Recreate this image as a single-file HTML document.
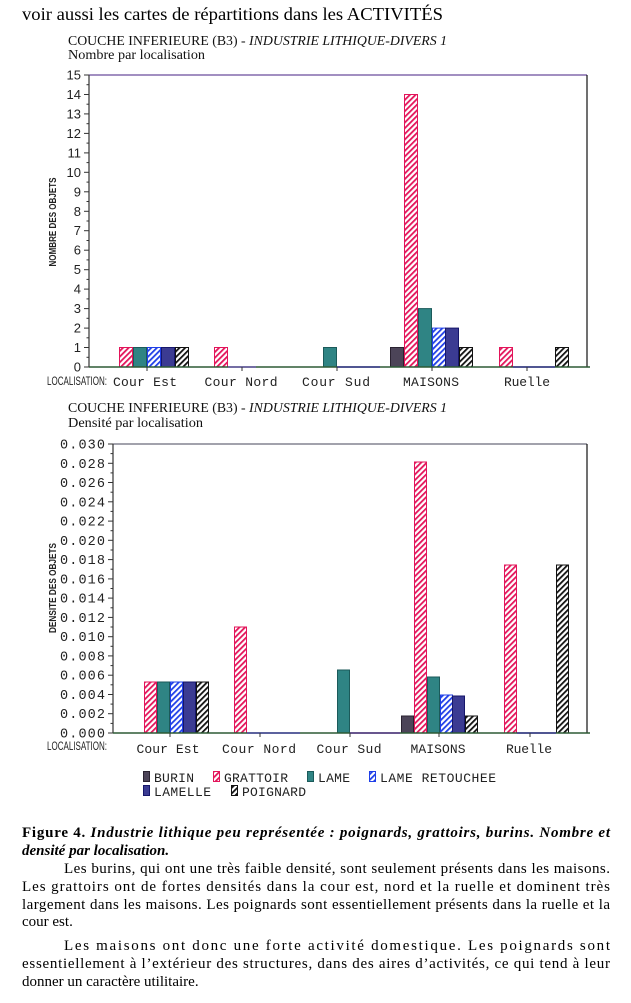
<!DOCTYPE html>
<html><head><meta charset="utf-8"><style>
html,body{margin:0;padding:0;background:#fff;}
svg{display:block;}
</style></head><body>
<svg width="631" height="1003" viewBox="0 0 631 1003" xmlns="http://www.w3.org/2000/svg">
<defs>
<pattern id="hr" patternUnits="userSpaceOnUse" width="4" height="4" patternTransform="rotate(45)"><rect width="4" height="4" fill="#fff"/><rect width="1.8" height="4" fill="#e3145a"/></pattern>
<pattern id="hb" patternUnits="userSpaceOnUse" width="4" height="4" patternTransform="rotate(45)"><rect width="4" height="4" fill="#fff"/><rect width="1.8" height="4" fill="#1f3fe8"/></pattern>
<pattern id="hk" patternUnits="userSpaceOnUse" width="4" height="4" patternTransform="rotate(45)"><rect width="4" height="4" fill="#fff"/><rect width="1.8" height="4" fill="#111"/></pattern>
</defs>
<rect width="631" height="1003" fill="#fff"/>

<!-- Header -->
<text x="22" y="20" font-family="Liberation Serif, serif" font-size="17.5" fill="#000" textLength="421" lengthAdjust="spacingAndGlyphs">voir aussi les cartes de répartitions dans les ACTIVITÉS</text>

<!-- Chart 1 titles -->
<text x="68" y="45" font-family="Liberation Serif, serif" font-size="13.5" fill="#111" textLength="379" lengthAdjust="spacingAndGlyphs">COUCHE INFERIEURE (B3) - <tspan font-style="italic">INDUSTRIE LITHIQUE-DIVERS 1</tspan></text>
<text x="68" y="59" font-family="Liberation Serif, serif" font-size="13.5" fill="#111" textLength="137" lengthAdjust="spacingAndGlyphs">Nombre par localisation</text>

<!-- Chart 1 frame -->
<line x1="89" y1="75" x2="587" y2="75" stroke="#6a4c9c" stroke-width="1.2"/>
<line x1="587" y1="75" x2="587" y2="367" stroke="#111" stroke-width="1.2"/>
<line x1="89" y1="75" x2="89" y2="367" stroke="#333" stroke-width="1.2"/>

<!-- Chart 1 y ticks & labels -->
<g stroke="#333" stroke-width="1">
<line x1="84" y1="367" x2="89" y2="367"/><line x1="84" y1="347.5" x2="89" y2="347.5"/><line x1="84" y1="328.1" x2="89" y2="328.1"/><line x1="84" y1="308.6" x2="89" y2="308.6"/><line x1="84" y1="289.1" x2="89" y2="289.1"/><line x1="84" y1="269.7" x2="89" y2="269.7"/><line x1="84" y1="250.2" x2="89" y2="250.2"/><line x1="84" y1="230.7" x2="89" y2="230.7"/><line x1="84" y1="211.3" x2="89" y2="211.3"/><line x1="84" y1="191.8" x2="89" y2="191.8"/><line x1="84" y1="172.3" x2="89" y2="172.3"/><line x1="84" y1="152.9" x2="89" y2="152.9"/><line x1="84" y1="133.4" x2="89" y2="133.4"/><line x1="84" y1="113.9" x2="89" y2="113.9"/><line x1="84" y1="94.5" x2="89" y2="94.5"/><line x1="84" y1="75" x2="89" y2="75"/>
<line x1="86.5" y1="357.3" x2="89" y2="357.3"/><line x1="86.5" y1="337.8" x2="89" y2="337.8"/><line x1="86.5" y1="318.3" x2="89" y2="318.3"/><line x1="86.5" y1="298.9" x2="89" y2="298.9"/><line x1="86.5" y1="279.4" x2="89" y2="279.4"/><line x1="86.5" y1="259.9" x2="89" y2="259.9"/><line x1="86.5" y1="240.5" x2="89" y2="240.5"/><line x1="86.5" y1="221" x2="89" y2="221"/><line x1="86.5" y1="201.5" x2="89" y2="201.5"/><line x1="86.5" y1="182.1" x2="89" y2="182.1"/><line x1="86.5" y1="162.6" x2="89" y2="162.6"/><line x1="86.5" y1="143.1" x2="89" y2="143.1"/><line x1="86.5" y1="123.7" x2="89" y2="123.7"/><line x1="86.5" y1="104.2" x2="89" y2="104.2"/><line x1="86.5" y1="84.7" x2="89" y2="84.7"/>
</g>
<g font-family="Liberation Sans, sans-serif" font-size="13" fill="#222" text-anchor="end">
<text x="81" y="371.5">0</text><text x="81" y="352">1</text><text x="81" y="332.6">2</text><text x="81" y="313.1">3</text><text x="81" y="293.6">4</text><text x="81" y="274.2">5</text><text x="81" y="254.7">6</text><text x="81" y="235.2">7</text><text x="81" y="215.8">8</text><text x="81" y="196.3">9</text><text x="81" y="176.8">10</text><text x="81" y="157.4">11</text><text x="81" y="137.9">12</text><text x="81" y="118.4">13</text><text x="81" y="99">14</text><text x="81" y="79.5">15</text>
</g>
<text transform="translate(56,222) rotate(-90)" text-anchor="middle" font-family="Liberation Sans, sans-serif" font-size="10" font-weight="bold" fill="#222" textLength="89" lengthAdjust="spacingAndGlyphs">NOMBRE DES OBJETS</text>

<!-- Chart 1 bars -->
<g stroke-width="1">
<rect x="119.5" y="347.5" width="13" height="19.5" fill="url(#hr)" stroke="#e3145a"/>
<rect x="133.5" y="347.5" width="13" height="19.5" fill="#2f8484" stroke="#1b5a5a"/>
<rect x="147.5" y="347.5" width="13" height="19.5" fill="url(#hb)" stroke="#1f3fe8"/>
<rect x="161.5" y="347.5" width="13" height="19.5" fill="#3b3b92" stroke="#16166a"/>
<rect x="175.5" y="347.5" width="13" height="19.5" fill="url(#hk)" stroke="#111"/>

<rect x="214.5" y="347.5" width="13" height="19.5" fill="url(#hr)" stroke="#e3145a"/>

<rect x="323.5" y="347.5" width="13" height="19.5" fill="#2f8484" stroke="#1b5a5a"/>

<rect x="390.5" y="347.5" width="13" height="19.5" fill="#4c4458" stroke="#2a2230"/>
<rect x="404.5" y="94.5" width="13" height="272.5" fill="url(#hr)" stroke="#e3145a"/>
<rect x="418.5" y="308.6" width="13" height="58.4" fill="#2f8484" stroke="#1b5a5a"/>
<rect x="432.5" y="328.1" width="13" height="38.9" fill="url(#hb)" stroke="#1f3fe8"/>
<rect x="445.5" y="328.1" width="13" height="38.9" fill="#3b3b92" stroke="#16166a"/>
<rect x="459.5" y="347.5" width="13" height="19.5" fill="url(#hk)" stroke="#111"/>

<rect x="499.5" y="347.5" width="13" height="19.5" fill="url(#hr)" stroke="#e3145a"/>
<rect x="555.5" y="347.5" width="13" height="19.5" fill="url(#hk)" stroke="#111"/>
</g>
<line x1="89" y1="367" x2="590" y2="367" stroke="#2d5a35" stroke-width="1.5"/>
<line x1="228" y1="367" x2="256" y2="367" stroke="#6a5aa8" stroke-width="1.5"/>
<line x1="337" y1="367" x2="380" y2="367" stroke="#3a3a90" stroke-width="1.5"/>
<line x1="513" y1="367" x2="555" y2="367" stroke="#3a3a90" stroke-width="1.5"/>
<g stroke="#333" stroke-width="1">
<line x1="147" y1="367" x2="147" y2="371"/><line x1="242" y1="367" x2="242" y2="371"/><line x1="337" y1="367" x2="337" y2="371"/><line x1="432" y1="367" x2="432" y2="371"/><line x1="527" y1="367" x2="527" y2="371"/>
</g>
<text x="47" y="385" font-family="Liberation Sans, sans-serif" font-size="11.5" fill="#222" textLength="60" lengthAdjust="spacingAndGlyphs">LOCALISATION:</text>
<g font-family="Liberation Mono, monospace" font-size="13" fill="#222" text-anchor="middle">
<text x="145" y="386" textLength="64" lengthAdjust="spacing">Cour Est</text>
<text x="241" y="386" textLength="73" lengthAdjust="spacing">Cour Nord</text>
<text x="336" y="386" textLength="68" lengthAdjust="spacing">Cour Sud</text>
<text x="431" y="386" textLength="56" lengthAdjust="spacing">MAISONS</text>
<text x="527" y="386" textLength="46" lengthAdjust="spacing">Ruelle</text>
</g>

<!-- Chart 2 titles -->
<text x="68" y="412" font-family="Liberation Serif, serif" font-size="13.5" fill="#111" textLength="379" lengthAdjust="spacingAndGlyphs">COUCHE INFERIEURE (B3) - <tspan font-style="italic">INDUSTRIE LITHIQUE-DIVERS 1</tspan></text>
<text x="68" y="427" font-family="Liberation Serif, serif" font-size="13.5" fill="#111" textLength="135" lengthAdjust="spacingAndGlyphs">Densité par localisation</text>

<!-- Chart 2 frame -->
<line x1="113" y1="444" x2="587" y2="444" stroke="#6a6a7a" stroke-width="1.2"/>
<line x1="587" y1="444" x2="587" y2="733" stroke="#111" stroke-width="1.2"/>
<line x1="113" y1="444" x2="113" y2="733" stroke="#333" stroke-width="1.2"/>

<g stroke="#333" stroke-width="1">
<line x1="108" y1="733" x2="113" y2="733"/><line x1="108" y1="713.7" x2="113" y2="713.7"/><line x1="108" y1="694.5" x2="113" y2="694.5"/><line x1="108" y1="675.2" x2="113" y2="675.2"/><line x1="108" y1="655.9" x2="113" y2="655.9"/><line x1="108" y1="636.7" x2="113" y2="636.7"/><line x1="108" y1="617.4" x2="113" y2="617.4"/><line x1="108" y1="598.1" x2="113" y2="598.1"/><line x1="108" y1="578.9" x2="113" y2="578.9"/><line x1="108" y1="559.6" x2="113" y2="559.6"/><line x1="108" y1="540.3" x2="113" y2="540.3"/><line x1="108" y1="521.1" x2="113" y2="521.1"/><line x1="108" y1="501.8" x2="113" y2="501.8"/><line x1="108" y1="482.5" x2="113" y2="482.5"/><line x1="108" y1="463.3" x2="113" y2="463.3"/><line x1="108" y1="444" x2="113" y2="444"/>
<line x1="110.5" y1="723.4" x2="113" y2="723.4"/><line x1="110.5" y1="704.1" x2="113" y2="704.1"/><line x1="110.5" y1="684.8" x2="113" y2="684.8"/><line x1="110.5" y1="665.6" x2="113" y2="665.6"/><line x1="110.5" y1="646.3" x2="113" y2="646.3"/><line x1="110.5" y1="627" x2="113" y2="627"/><line x1="110.5" y1="607.8" x2="113" y2="607.8"/><line x1="110.5" y1="588.5" x2="113" y2="588.5"/><line x1="110.5" y1="569.2" x2="113" y2="569.2"/><line x1="110.5" y1="550" x2="113" y2="550"/><line x1="110.5" y1="530.7" x2="113" y2="530.7"/><line x1="110.5" y1="511.4" x2="113" y2="511.4"/><line x1="110.5" y1="492.2" x2="113" y2="492.2"/><line x1="110.5" y1="472.9" x2="113" y2="472.9"/><line x1="110.5" y1="453.6" x2="113" y2="453.6"/>
</g>
<g font-family="Liberation Mono, monospace" font-size="13.5" fill="#222">
<text x="60" y="737.5" textLength="45" lengthAdjust="spacing">0.000</text>
<text x="60" y="718.2" textLength="45" lengthAdjust="spacing">0.002</text>
<text x="60" y="699" textLength="45" lengthAdjust="spacing">0.004</text>
<text x="60" y="679.7" textLength="45" lengthAdjust="spacing">0.006</text>
<text x="60" y="660.4" textLength="45" lengthAdjust="spacing">0.008</text>
<text x="60" y="641.2" textLength="45" lengthAdjust="spacing">0.010</text>
<text x="60" y="621.9" textLength="45" lengthAdjust="spacing">0.012</text>
<text x="60" y="602.6" textLength="45" lengthAdjust="spacing">0.014</text>
<text x="60" y="583.4" textLength="45" lengthAdjust="spacing">0.016</text>
<text x="60" y="564.1" textLength="45" lengthAdjust="spacing">0.018</text>
<text x="60" y="544.8" textLength="45" lengthAdjust="spacing">0.020</text>
<text x="60" y="525.6" textLength="45" lengthAdjust="spacing">0.022</text>
<text x="60" y="506.3" textLength="45" lengthAdjust="spacing">0.024</text>
<text x="60" y="487" textLength="45" lengthAdjust="spacing">0.026</text>
<text x="60" y="467.8" textLength="45" lengthAdjust="spacing">0.028</text>
<text x="60" y="448.5" textLength="45" lengthAdjust="spacing">0.030</text>
</g>
<text transform="translate(56,588) rotate(-90)" text-anchor="middle" font-family="Liberation Sans, sans-serif" font-size="10" font-weight="bold" fill="#222" textLength="90" lengthAdjust="spacingAndGlyphs">DENSITE DES OBJETS</text>

<!-- Chart 2 bars -->
<g stroke-width="1">
<rect x="144.5" y="682" width="12" height="51" fill="url(#hr)" stroke="#e3145a"/>
<rect x="157.5" y="682" width="12" height="51" fill="#2f8484" stroke="#1b5a5a"/>
<rect x="170.5" y="682" width="12" height="51" fill="url(#hb)" stroke="#1f3fe8"/>
<rect x="183.5" y="682" width="12" height="51" fill="#3b3b92" stroke="#16166a"/>
<rect x="196.5" y="682" width="12" height="51" fill="url(#hk)" stroke="#111"/>

<rect x="234.5" y="627" width="12" height="106" fill="url(#hr)" stroke="#e3145a"/>

<rect x="337.5" y="670" width="12" height="63" fill="#2f8484" stroke="#1b5a5a"/>

<rect x="401.5" y="716" width="12" height="17" fill="#4c4458" stroke="#2a2230"/>
<rect x="414.5" y="462" width="12" height="271" fill="url(#hr)" stroke="#e3145a"/>
<rect x="427.5" y="677" width="12" height="56" fill="#2f8484" stroke="#1b5a5a"/>
<rect x="440.5" y="695" width="12" height="38" fill="url(#hb)" stroke="#1f3fe8"/>
<rect x="452.5" y="696" width="12" height="37" fill="#3b3b92" stroke="#16166a"/>
<rect x="465.5" y="716" width="12" height="17" fill="url(#hk)" stroke="#111"/>

<rect x="504.5" y="565" width="12" height="168" fill="url(#hr)" stroke="#e3145a"/>
<rect x="556.5" y="565" width="12" height="168" fill="url(#hk)" stroke="#111"/>
</g>
<line x1="113" y1="733" x2="590" y2="733" stroke="#2d5a35" stroke-width="1.5"/>
<line x1="247" y1="733" x2="300" y2="733" stroke="#4a4aa0" stroke-width="1.5"/>
<line x1="350" y1="733" x2="400" y2="733" stroke="#5a3a8a" stroke-width="1.5"/>
<line x1="517" y1="733" x2="556" y2="733" stroke="#3a3a90" stroke-width="1.5"/>
<g stroke="#333" stroke-width="1">
<line x1="170" y1="733" x2="170" y2="737"/><line x1="260" y1="733" x2="260" y2="737"/><line x1="350" y1="733" x2="350" y2="737"/><line x1="439" y1="733" x2="439" y2="737"/><line x1="530" y1="733" x2="530" y2="737"/>
</g>
<text x="47" y="750" font-family="Liberation Sans, sans-serif" font-size="11.5" fill="#222" textLength="60" lengthAdjust="spacingAndGlyphs">LOCALISATION:</text>
<g font-family="Liberation Mono, monospace" font-size="13" fill="#222" text-anchor="middle">
<text x="168" y="753" textLength="63" lengthAdjust="spacing">Cour Est</text>
<text x="259" y="753" textLength="74" lengthAdjust="spacing">Cour Nord</text>
<text x="349" y="753" textLength="65" lengthAdjust="spacing">Cour Sud</text>
<text x="438" y="753" textLength="55" lengthAdjust="spacing">MAISONS</text>
<text x="529" y="753" textLength="46" lengthAdjust="spacing">Ruelle</text>
</g>

<!-- Legend -->
<g stroke-width="1">
<rect x="143.5" y="771.5" width="6" height="10" fill="#4c4458" stroke="#2a2230"/>
<rect x="213.5" y="771.5" width="6" height="10" fill="url(#hr)" stroke="#e3145a"/>
<rect x="307.5" y="771.5" width="6" height="10" fill="#2f8484" stroke="#1b5a5a"/>
<rect x="369.5" y="771.5" width="6" height="10" fill="url(#hb)" stroke="#1f3fe8"/>
<rect x="143.5" y="785.5" width="6" height="10" fill="#3b3b92" stroke="#16166a"/>
<rect x="231.5" y="785.5" width="6" height="10" fill="url(#hk)" stroke="#111"/>
</g>
<g font-family="Liberation Mono, monospace" font-size="13" fill="#222">
<text x="154" y="782" textLength="40" lengthAdjust="spacing">BURIN</text>
<text x="224" y="782" textLength="64" lengthAdjust="spacing">GRATTOIR</text>
<text x="318" y="782" textLength="32" lengthAdjust="spacing">LAME</text>
<text x="380" y="782" textLength="116" lengthAdjust="spacing">LAME RETOUCHEE</text>
<text x="154" y="796" textLength="57" lengthAdjust="spacing">LAMELLE</text>
<text x="242" y="796" textLength="64" lengthAdjust="spacing">POIGNARD</text>
</g>

<!-- Caption & paragraphs -->
<g font-family="Liberation Serif, serif" font-size="15" fill="#000">
<text x="22" y="837" font-weight="bold" textLength="588" lengthAdjust="spacing">Figure 4. <tspan font-style="italic">Industrie lithique peu représentée : poignards, grattoirs, burins. Nombre et</tspan></text>
<text x="22" y="855" font-weight="bold" font-style="italic">densité par localisation.</text>
<text x="64" y="873" textLength="546" lengthAdjust="spacing">Les burins, qui ont une très faible densité, sont seulement présents dans les maisons.</text>
<text x="22" y="891" textLength="588" lengthAdjust="spacing">Les grattoirs ont de fortes densités dans la cour est, nord et la ruelle et dominent très</text>
<text x="22" y="909" textLength="588" lengthAdjust="spacing">largement dans les maisons. Les poignards sont essentiellement présents dans la ruelle et la</text>
<text x="22" y="926">cour est.</text>
<text x="64" y="950" textLength="546" lengthAdjust="spacing">Les maisons ont donc une forte activité domestique. Les poignards sont</text>
<text x="22" y="968" textLength="588" lengthAdjust="spacing">essentiellement à l’extérieur des structures, dans des aires d’activités, ce qui tend à leur</text>
<text x="22" y="986">donner un caractère utilitaire.</text>
</g>
</svg>
</body></html>
